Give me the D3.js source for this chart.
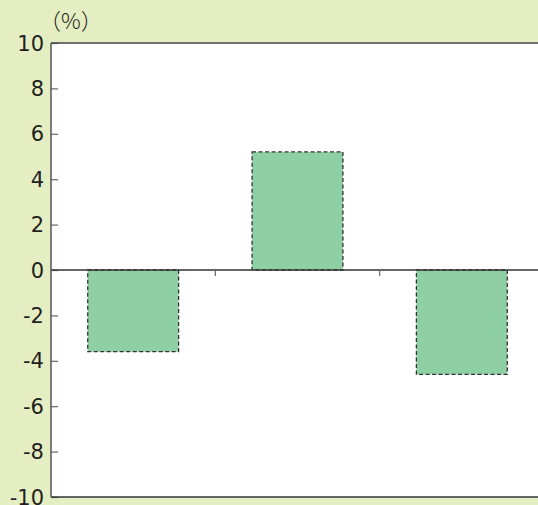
<!DOCTYPE html>
<html>
<head>
<meta charset="utf-8">
<script src="https://cdn.jsdelivr.net/npm/d3@7"></script>
<style>
  html, body { margin: 0; padding: 0; background: #e5eec3; overflow: hidden; }
  svg { display: block; }
</style>
</head>
<body>
<svg id="chart" width="538" height="505"></svg>
<script>
// Three period categories, change in percent
const categories = ["A", "B", "C"];
const values = [-3.6, 5.2, -4.6];
const yTicks = [-10, -8, -6, -4, -2, 0, 2, 4, 6, 8, 10];
const unitLabel = "（%）";

const svg = d3.select("#chart");
const plotLeft = 51, plotRight = 544, plotTop = 43, plotBottom = 497;

const x = d3.scaleBand().domain(categories).range([plotLeft, plotRight]).paddingInner(0.447).paddingOuter(0.2235);
const xSep = d3.scaleBand().domain(categories).range([plotLeft, plotRight]);
const y = d3.scaleLinear().domain([-10, 10]).range([plotBottom, plotTop]);

// plot area
svg.append("rect")
  .attr("x", plotLeft).attr("y", plotTop)
  .attr("width", plotRight - plotLeft).attr("height", plotBottom - plotTop)
  .attr("fill", "#ffffff");

// bars
svg.append("g").selectAll("rect")
  .data(values)
  .join("rect")
  .attr("x", (d, i) => x(categories[i]))
  .attr("width", x.bandwidth())
  .attr("y", d => y(Math.max(0, d)))
  .attr("height", d => Math.abs(y(d) - y(0)))
  .attr("fill", "#8ecfa4")
  .attr("stroke", "#333333")
  .attr("stroke-width", 1.3)
  .attr("stroke-dasharray", "4,2.5");

// left axis with inward ticks
const yAxis = d3.axisRight(y).tickValues(yTicks).tickSize(7).tickFormat("");
const gy = svg.append("g").attr("transform", `translate(${plotLeft},0)`).call(yAxis);
gy.select(".domain").remove();
gy.selectAll(".tick line").attr("stroke", "#666").attr("stroke-width", 1.2);

// tick labels
svg.append("g").selectAll("text")
  .data(yTicks)
  .join("text")
  .attr("x", 44)
  .attr("y", d => y(d))
  .attr("dy", "0.36em")
  .attr("text-anchor", "end")
  .attr("font-family", "DejaVu Sans, sans-serif")
  .attr("font-size", 21)
  .attr("fill", "#231f20")
  .text(d => d);

// zero line with category separators below it
const gx = svg.append("g").attr("transform", `translate(0,${y(0)})`);
gx.append("line")
  .attr("x1", plotLeft).attr("x2", plotRight)
  .attr("stroke", "#333").attr("stroke-width", 1.3);
gx.selectAll("line.sep")
  .data(categories.slice(1))
  .join("line")
  .attr("class", "sep")
  .attr("x1", d => xSep(d)).attr("x2", d => xSep(d))
  .attr("y1", 0).attr("y2", 6)
  .attr("stroke", "#666").attr("stroke-width", 1.2);

// frame: top, left, bottom
svg.append("line").attr("x1", plotLeft).attr("x2", plotRight).attr("y1", plotTop).attr("y2", plotTop)
  .attr("stroke", "#444").attr("stroke-width", 1.5);
svg.append("line").attr("x1", plotLeft).attr("x2", plotRight).attr("y1", plotBottom).attr("y2", plotBottom)
  .attr("stroke", "#333").attr("stroke-width", 1.5);
svg.append("line").attr("x1", plotLeft).attr("x2", plotLeft).attr("y1", plotTop).attr("y2", plotBottom)
  .attr("stroke", "#555").attr("stroke-width", 1.5);

// unit label
svg.append("text")
  .attr("x", 39).attr("y", 29)
  .attr("font-family", "Noto Sans CJK JP, sans-serif")
  .attr("font-size", 22)
  .attr("font-weight", 300)
  .attr("fill", "#231f20")
  .text(unitLabel);
</script>
</body>
</html>
